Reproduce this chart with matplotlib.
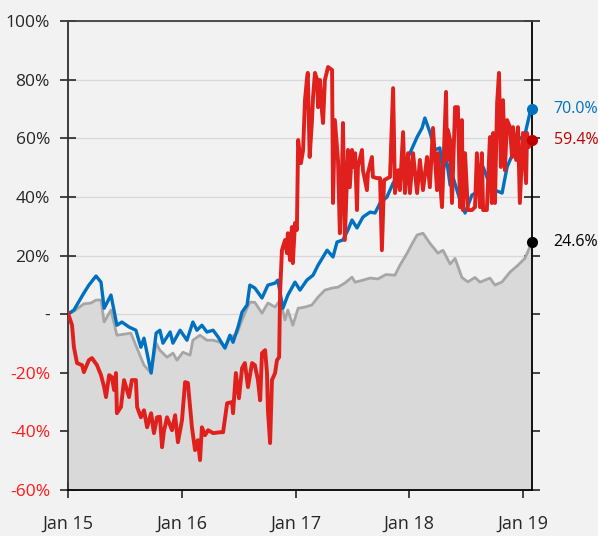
import matplotlib
matplotlib.use("Agg")
import matplotlib.pyplot as plt
import matplotlib.dates as mdates
import pandas as pd

plt.rcParams["font.family"] = ["Open Sans", "DejaVu Sans"]

# cumulative return (%) since Jan 2015
index_dates = [
    "2015-01-01", "2015-01-20", "2015-02-21", "2015-03-16", "2015-04-01", "2015-04-17",
    "2015-04-27", "2015-05-19", "2015-06-07", "2015-07-22", "2015-08-17", "2015-09-02",
    "2015-09-25", "2015-10-11", "2015-10-23", "2015-11-15", "2015-12-04", "2015-12-17",
    "2016-01-05", "2016-01-28", "2016-02-06", "2016-02-29", "2016-03-22", "2016-04-11",
    "2016-05-03", "2016-05-19", "2016-06-04", "2016-06-27", "2016-07-13", "2016-07-29",
    "2016-08-07", "2016-08-23", "2016-09-15", "2016-10-04", "2016-10-27", "2016-11-12",
    "2016-11-28", "2016-12-07", "2016-12-23", "2017-01-09", "2017-01-31", "2017-02-22",
    "2017-03-14", "2017-04-05", "2017-04-28", "2017-05-17", "2017-06-08", "2017-07-01",
    "2017-07-11", "2017-08-02", "2017-08-28", "2017-09-22", "2017-10-18", "2017-11-16",
    "2017-12-02", "2017-12-25", "2018-01-10", "2018-01-26", "2018-02-14", "2018-03-08",
    "2018-04-03", "2018-04-19", "2018-05-12", "2018-05-28", "2018-06-19", "2018-07-08",
    "2018-07-31", "2018-08-16", "2018-09-17", "2018-10-03", "2018-10-26", "2018-11-20",
    "2018-12-16", "2019-01-07", "2019-01-30",
]
index_values = [
    0.0, 1.0, 3.5, 3.8, 4.8, 4.8,
    -2.7, 1.4, -7.2, -6.5, -13.3, -17.4,
    -20.1, -9.9, -12.3, -14.7, -13.3, -15.7,
    -13.0, -14.0, -8.9, -7.2, -8.9, -8.9,
    -9.6, -11.3, -8.2, -6.5, -2.0, 2.0,
    4.1, 4.0, 0.3, 3.8, 2.4, 4.8,
    -2.0, 1.4, -3.8, 2.0, 2.4, 3.1,
    5.8, 8.2, 8.9, 9.2, 10.6, 12.6,
    10.9, 11.5, 12.3, 12.0, 13.5, 13.3,
    16.7, 20.8, 24.0, 27.0, 27.6, 24.2,
    20.8, 21.8, 17.1, 19.0, 12.5, 11.0,
    12.5, 10.9, 12.3, 9.9, 11.0, 14.3,
    16.7, 19.0, 24.6,
]

fund_dates = [
    "2015-01-01", "2015-01-20", "2015-02-21", "2015-03-09", "2015-04-01", "2015-04-17",
    "2015-04-27", "2015-05-19", "2015-06-07", "2015-06-23", "2015-07-16", "2015-08-07",
    "2015-08-23", "2015-09-02", "2015-09-25", "2015-10-11", "2015-10-23", "2015-11-02",
    "2015-11-25", "2015-12-04", "2015-12-27", "2016-01-18", "2016-02-06", "2016-02-19",
    "2016-03-06", "2016-03-22", "2016-04-11", "2016-04-27", "2016-05-19", "2016-06-04",
    "2016-06-14", "2016-06-30", "2016-07-13", "2016-07-29", "2016-08-07", "2016-08-23",
    "2016-09-15", "2016-10-04", "2016-10-27", "2016-11-05", "2016-11-21", "2016-12-07",
    "2016-12-30", "2017-01-15", "2017-02-06", "2017-02-26", "2017-03-14", "2017-03-30",
    "2017-04-12", "2017-05-01", "2017-05-14", "2017-06-02", "2017-06-18", "2017-07-01",
    "2017-07-17", "2017-08-05", "2017-08-28", "2017-09-13", "2017-09-29", "2017-10-21",
    "2017-11-10", "2017-12-02", "2018-01-03", "2018-01-26", "2018-02-11", "2018-02-20",
    "2018-03-08", "2018-03-24", "2018-04-09", "2018-04-19", "2018-04-29", "2018-05-12",
    "2018-05-21", "2018-06-13", "2018-06-29", "2018-07-21", "2018-08-06", "2018-08-26",
    "2018-09-11", "2018-10-03", "2018-10-26", "2018-11-11", "2018-11-30", "2018-12-16",
    "2019-01-07", "2019-01-23", "2019-01-30",
]
fund_values = [
    0.0, 1.4, 7.2, 9.9, 13.0, 10.9,
    2.0, 6.5, -3.8, -2.7, -4.4, -5.5,
    -11.3, -8.2, -20.1, -6.5, -5.5, -9.9,
    -6.1, -9.9, -5.5, -8.9, -2.7, -5.5,
    -3.8, -6.1, -5.5, -7.8, -11.6, -7.2,
    -9.6, -4.4, 0.7, 3.1, 9.9, 8.9,
    5.5, 9.9, 10.6, 11.6, 2.0, 6.5,
    10.9, 8.2, 11.6, 13.3, 16.7, 19.5,
    21.8, 19.5, 24.6, 25.3, 28.7, 32.1,
    29.4, 33.1, 34.8, 34.5, 37.9, 39.9,
    44.7, 48.1, 54.9, 60.4, 63.5, 66.9,
    62.1, 56.0, 56.7, 48.5, 54.0, 44.0,
    46.8, 38.9, 34.5, 40.6, 41.6, 50.2,
    45.7, 42.3, 41.3, 50.2, 54.9, 59.4,
    61.1, 68.5, 70.0,
]

peer_dates = [
    "2015-01-01", "2015-01-14", "2015-01-20", "2015-01-30", "2015-02-15", "2015-02-21",
    "2015-03-09", "2015-03-19", "2015-04-04", "2015-04-17", "2015-04-27", "2015-05-03",
    "2015-05-13", "2015-05-22", "2015-05-29", "2015-06-04", "2015-06-07", "2015-06-20",
    "2015-06-30", "2015-07-16", "2015-07-25", "2015-08-07", "2015-08-11", "2015-08-23",
    "2015-09-02", "2015-09-12", "2015-09-25", "2015-10-04", "2015-10-14", "2015-10-23",
    "2015-10-30", "2015-11-05", "2015-11-15", "2015-12-01", "2015-12-11", "2015-12-20",
    "2016-01-02", "2016-01-12", "2016-01-21", "2016-02-03", "2016-02-13", "2016-02-22",
    "2016-02-29", "2016-03-06", "2016-03-16", "2016-03-26", "2016-04-11", "2016-05-03",
    "2016-05-13", "2016-05-26", "2016-06-11", "2016-06-14", "2016-06-23", "2016-07-03",
    "2016-07-13", "2016-07-22", "2016-08-01", "2016-08-14", "2016-08-23", "2016-09-02",
    "2016-09-09", "2016-09-15", "2016-09-25", "2016-10-01", "2016-10-04", "2016-10-11",
    "2016-10-17", "2016-10-27", "2016-11-02", "2016-11-09", "2016-11-12", "2016-11-18",
    "2016-11-28", "2016-12-04", "2016-12-07", "2016-12-14", "2016-12-20", "2016-12-23",
    "2016-12-30", "2017-01-05", "2017-01-09", "2017-01-18", "2017-01-25", "2017-01-31",
    "2017-02-06", "2017-02-09", "2017-02-15", "2017-02-22", "2017-02-26", "2017-03-04",
    "2017-03-11", "2017-03-14", "2017-03-20", "2017-03-27", "2017-03-30", "2017-04-05",
    "2017-04-15", "2017-04-28", "2017-05-01", "2017-05-07", "2017-05-17", "2017-05-23",
    "2017-05-30", "2017-06-02", "2017-06-08", "2017-06-18", "2017-06-24", "2017-07-01",
    "2017-07-04", "2017-07-11", "2017-07-17", "2017-07-20", "2017-08-02", "2017-08-05",
    "2017-08-18", "2017-08-21", "2017-09-03", "2017-09-06", "2017-09-19", "2017-09-29",
    "2017-10-05", "2017-10-12", "2017-10-31", "2017-11-10", "2017-11-16", "2017-11-26",
    "2017-12-02", "2017-12-12", "2017-12-18", "2017-12-28", "2018-01-03", "2018-01-13",
    "2018-01-26", "2018-02-04", "2018-02-14", "2018-02-27", "2018-03-08", "2018-03-18",
    "2018-03-31", "2018-04-03", "2018-04-16", "2018-04-29", "2018-05-02", "2018-05-05",
    "2018-05-12", "2018-05-18", "2018-05-28", "2018-06-06", "2018-06-13", "2018-06-19",
    "2018-06-22", "2018-06-29", "2018-07-08", "2018-07-21", "2018-07-31", "2018-08-06",
    "2018-08-16", "2018-08-22", "2018-08-26", "2018-09-07", "2018-09-17", "2018-09-23",
    "2018-09-27", "2018-10-03", "2018-10-10", "2018-10-16", "2018-10-22", "2018-10-29",
    "2018-11-04", "2018-11-11", "2018-11-20", "2018-11-27", "2018-11-30", "2018-12-10",
    "2018-12-16", "2018-12-22", "2019-01-01", "2019-01-11", "2019-01-14", "2019-01-20",
    "2019-01-30",
]
peer_values = [
    0.3, -3.8, -11.3, -16.7, -17.4, -19.8,
    -15.7, -15.0, -17.4, -20.8, -24.9, -28.3,
    -20.8, -21.5, -25.9, -20.1, -33.8, -31.7,
    -22.5, -28.3, -22.5, -22.5, -31.7, -35.2,
    -32.8, -38.6, -33.8, -40.6, -35.2, -35.0,
    -45.4, -40.0, -35.2, -39.6, -34.5, -43.7,
    -36.2, -23.2, -23.5, -38.6, -46.4, -43.0,
    -49.8, -38.6, -41.3, -39.6, -40.6, -40.3,
    -40.3, -30.4, -30.0, -33.8, -20.1, -28.7,
    -18.4, -16.7, -24.9, -16.7, -17.4, -22.5,
    -29.4, -13.3, -12.3, -20.1, -32.8, -44.0,
    -22.5, -20.1, -15.7, -14.7, 7.2, 21.8,
    25.3, 20.8, 27.6, 18.4, 29.7, 17.4,
    31.1, 28.7, 59.4, 51.5, 56.0, 73.0,
    79.9, 82.3, 53.6, 65.2, 74.1, 82.3,
    79.9, 70.6, 79.9, 68.6, 65.2, 79.9,
    84.3, 83.3, 37.9, 66.2, 52.6, 27.6,
    49.1, 65.2, 25.3, 56.0, 43.3, 56.0,
    50.2, 54.9, 35.5, 50.2, 56.0, 49.1,
    42.3, 48.1, 53.6, 46.8, 46.4, 46.4,
    21.8, 45.7, 46.8, 77.1, 41.3, 49.1,
    42.3, 62.1, 41.3, 54.9, 41.3, 54.9,
    41.3, 52.6, 42.3, 53.6, 43.3, 63.5,
    42.3, 54.9, 36.5, 75.8, 52.6, 62.8,
    59.4, 37.9, 70.6, 70.6, 36.5, 66.2,
    35.5, 54.9, 35.5, 35.5, 36.5, 54.9,
    36.5, 54.9, 35.5, 35.5, 60.4, 37.9,
    61.8, 37.9, 72.0, 82.3, 50.2, 73.0,
    49.1, 66.2, 63.8, 53.6, 63.8, 52.6,
    63.8, 37.9, 61.8, 44.7, 61.8, 57.0,
    59.4,
]

y_ticks = [-60, -40, -20, 0, 20, 40, 60, 80, 100]
y_tick_labels = ["-60%", "-40%", "-20%", "-", "20%", "40%", "60%", "80%", "100%"]

BG = "#f2f2f2"
BLUE = "#0070c0"
RED = "#e0201c"
DARK_RED = "#c00000"
GREY_LINE = "#a6a6a6"
GREY_FILL = "#d9d9d9"

idx_d = pd.to_datetime(index_dates)
fund_d = pd.to_datetime(fund_dates)
peer_d = pd.to_datetime(peer_dates)

fig = plt.figure(figsize=(5.98, 5.36), dpi=100, facecolor=BG)
ax = fig.add_axes([68 / 598, 1 - 490 / 536, 464 / 598, 469 / 536])
ax.set_facecolor(BG)

ax.set_ylim(y_ticks[0], y_ticks[-1])
ax.set_xlim(idx_d[0], idx_d[-1])

ax.set_yticks(y_ticks)
ax.set_yticklabels(y_tick_labels)
ax.grid(True, axis="y", color="#d9d9d9", lw=1, zorder=0)
ax.set_axisbelow(True)

ax.fill_between(idx_d, index_values, y_ticks[0], color=GREY_FILL, lw=0, zorder=1)
ax.plot(idx_d, index_values, color=GREY_LINE, lw=2, zorder=2)
ax.plot(fund_d, fund_values, color=BLUE, lw=2.4, zorder=3)
ax.plot(peer_d, peer_values, color=RED, lw=2.8, zorder=4)

# end-point markers and labels
ends = [
    (fund_d[-1], fund_values[-1], BLUE),
    (peer_d[-1], peer_values[-1], DARK_RED),
    (idx_d[-1], index_values[-1], "black"),
]
for d, v, c in ends:
    ax.plot([d], [v], "o", color=c, ms=7, zorder=6, clip_on=False)
    ax.annotate(f"{v:.1f}%", (d, v), xytext=(15.5, 0), textcoords="offset points",
                va="center", ha="left", color=c, fontsize=11.5, annotation_clip=False)

ax.xaxis.set_major_locator(mdates.YearLocator())
ax.xaxis.set_major_formatter(mdates.DateFormatter("%b %y"))

for side in ["left", "right", "top", "bottom"]:
    ax.spines[side].set_linewidth(1.3)
ax.spines["top"].set_color("#404040")
ax.spines["left"].set_color("#303030")
ax.spines["right"].set_color("black")
ax.spines["bottom"].set_color("black")

ax.tick_params(axis="y", direction="inout", length=12, width=1.2, pad=7,
               labelsize=12.5, colors="#262626", right=True)
ax.tick_params(axis="x", direction="inout", length=12, width=1.2, pad=12,
               labelsize=13, colors="#262626")
for lab, v in zip(ax.get_yticklabels(), y_ticks):
    if v < 0:
        lab.set_color("#ff1a1a")

# the title sits almost entirely above the canvas in the reference
fig.text(286 / 598, 1 + 3.7 / 536, "Equity Fund vs Industry", ha="center",
         va="baseline", fontsize=13, color="#262626")

fig.savefig("out.png", dpi=100, facecolor=BG)
